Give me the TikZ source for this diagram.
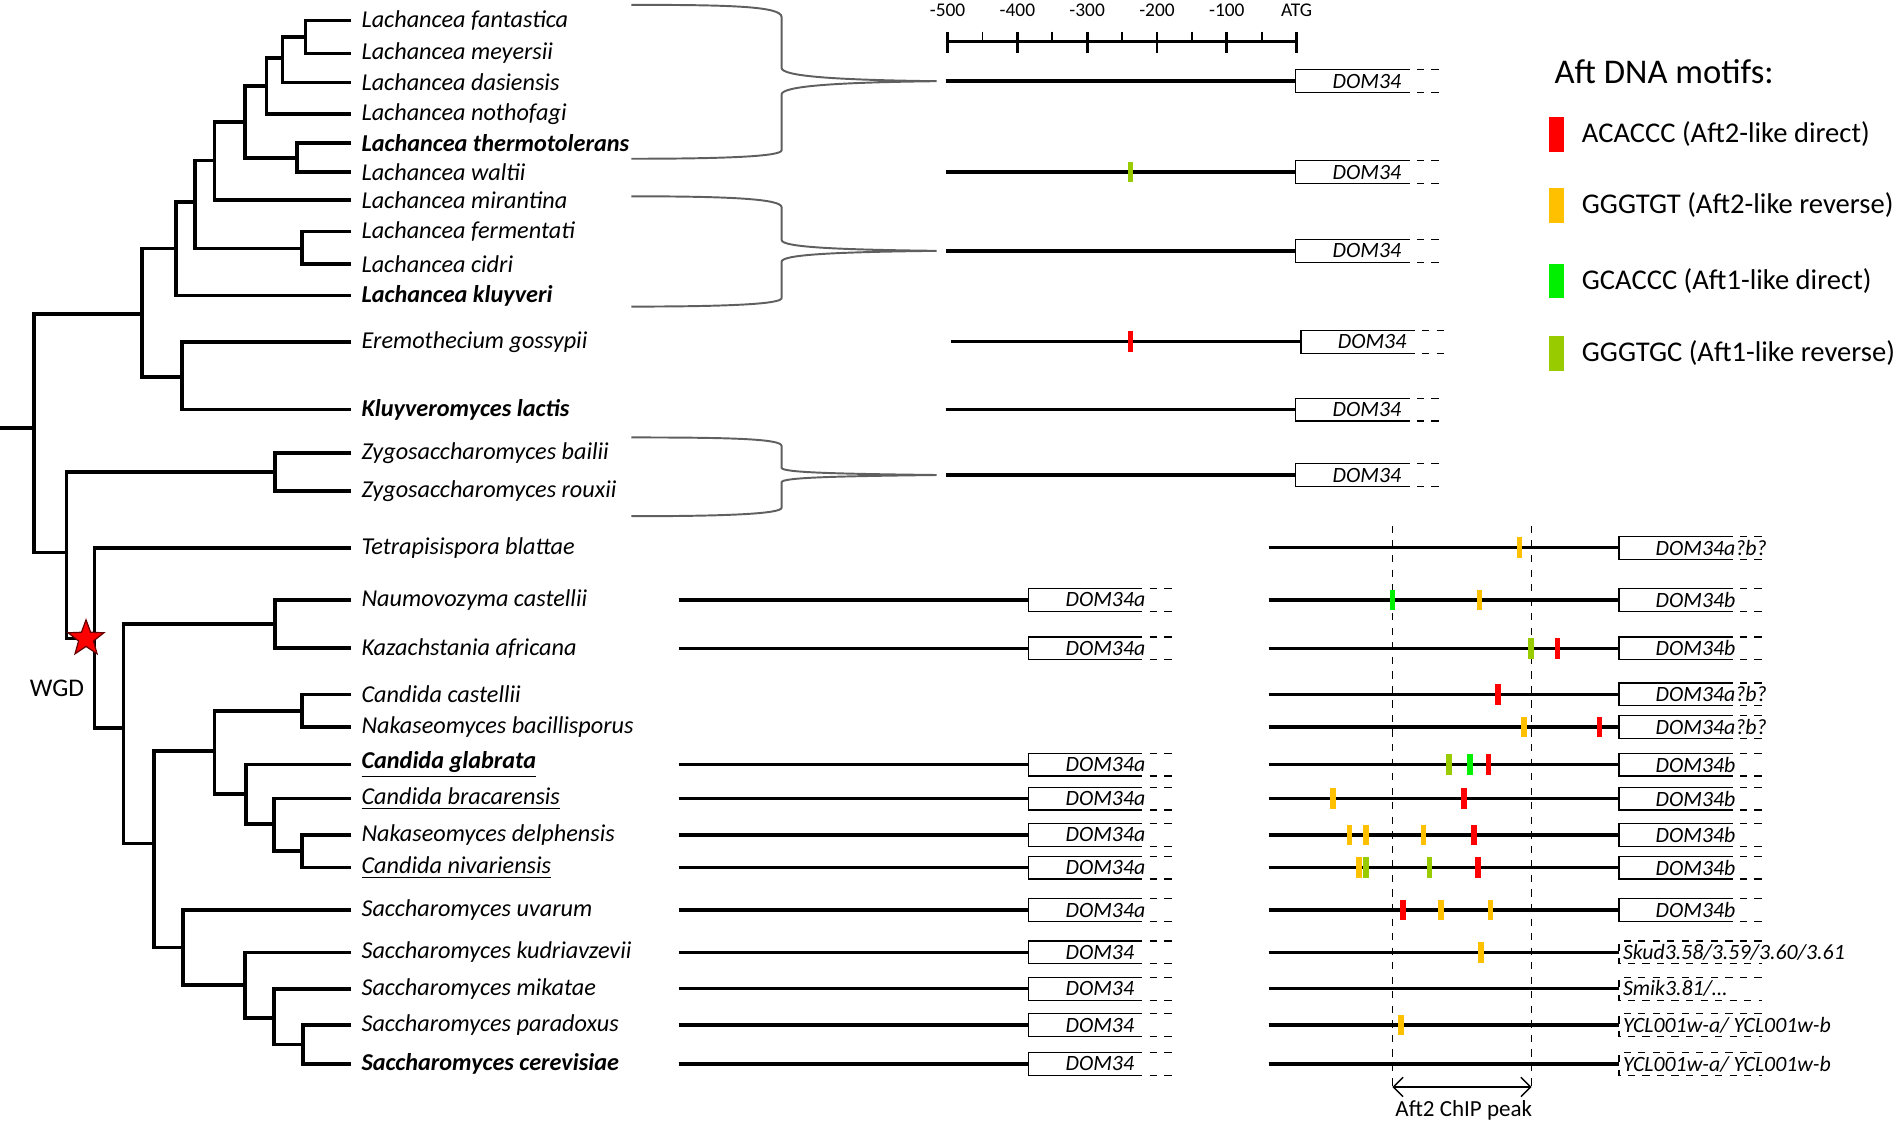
\documentclass[tikz,border=0pt]{standalone}
\usepackage{fontspec}
\setmainfont{Carlito}
\usetikzlibrary{positioning, shapes.geometric, arrows.meta}
\definecolor{motifred}{RGB}{255,0,0}
\definecolor{motifgold}{RGB}{255,192,0}
\definecolor{motifgreen}{RGB}{0,240,0}
\definecolor{motiflime}{RGB}{153,204,0}
\definecolor{bracegray}{RGB}{95,95,95}

\begin{document}
\begin{tikzpicture}[x=0.5pt, y=-0.5pt,
  leaf/.style={anchor=west, inner xsep=4pt, inner ysep=0pt, font=\itshape\fontsize{10}{11}\selectfont},
  branch/.style={line width=1.5pt},
  seq/.style={line width=1.4pt},
  boxline/.style={line width=0.5pt},
  gene/.style={anchor=west, minimum width=43.5pt, minimum height=9pt, inner sep=0pt},
  genelbl/.style={anchor=west, inner sep=0pt, font=\itshape\fontsize{9}{10}\selectfont},
  motif/.style={minimum width=2.3pt, minimum height=8.5pt, inner sep=0pt},
  swatch/.style={minimum width=6pt, minimum height=14.25pt, inner sep=0pt},
  leglbl/.style={anchor=west, inner sep=0pt, font=\fontsize{11.8}{13}\selectfont},
  scalelbl/.style={inner sep=0pt, font=\fontsize{8}{9}\selectfont},
  brace/.style={draw=bracegray, line width=0.8pt}]
\useasboundingbox (0,0) rectangle (1568,928);

% species
\node[leaf] (fant) at (290,17) {Lachancea fantastica};
\node[leaf] (meye) at (290,44) {Lachancea meyersii};
\node[leaf] (dasi) at (290,68) {Lachancea dasiensis};
\node[leaf] (noth) at (290,94) {Lachancea nothofagi};
\node[leaf] (ther) at (290,118) {\textbf{Lachancea thermotolerans}};
\node[leaf] (walt) at (290,142) {Lachancea waltii};
\node[leaf] (mira) at (290,165) {Lachancea mirantina};
\node[leaf] (ferm) at (290,191) {Lachancea fermentati};
\node[leaf] (cidr) at (290,218) {Lachancea cidri};
\node[leaf] (kluy) at (290,244) {\textbf{Lachancea kluyveri}};
\node[leaf] (erem) at (290,282) {Eremothecium gossypii};
\node[leaf] (lact) at (290,338) {\textbf{Kluyveromyces lactis}};
\node[leaf] (bail) at (290,374) {Zygosaccharomyces bailii};
\node[leaf] (roux) at (290,405) {Zygosaccharomyces rouxii};
\node[leaf] (tetr) at (290,452) {Tetrapisispora blattae};
\node[leaf] (naum) at (290,495) {Naumovozyma castellii};
\node[leaf] (kaza) at (290,535) {Kazachstania africana};
\node[leaf] (ccas) at (290,573) {Candida castellii};
\node[leaf] (nbac) at (290,600) {Nakaseomyces bacillisporus};
\node[leaf] (cgla) at (290,631) {\underline{\textbf{Candida glabrata}}};
\node[leaf] (cbra) at (290,659) {\underline{Candida bracarensis}};
\node[leaf] (ndel) at (290,689) {Nakaseomyces delphensis};
\node[leaf] (cniv) at (290,716) {\underline{Candida nivariensis}};
\node[leaf] (suva) at (290,751) {Saccharomyces uvarum};
\node[leaf] (skud) at (290,786) {Saccharomyces kudriavzevii};
\node[leaf] (smik) at (290,816) {Saccharomyces mikatae};
\node[leaf] (spar) at (290,846) {Saccharomyces paradoxus};
\node[leaf] (scer) at (290,878) {\textbf{Saccharomyces cerevisiae}};

% tree
\coordinate (n1) at (252,30.5);
\coordinate (n2) at (233,48);
\coordinate (n3) at (220,71);
\coordinate (n4) at (245,130.5);
\coordinate (n5) at (202,100.7);
\coordinate (n6) at (177,132.5);
\coordinate (n7) at (249,205);
\coordinate (n8) at (161,166.5);
\coordinate (n9) at (145,205);
\coordinate (n10) at (150,311);
\coordinate (n11) at (117,259);
\coordinate (root) at (28,353);
\coordinate (r0) at (0,353);
\coordinate (zyg) at (227,389.5);
\coordinate (nA) at (55,456);
\coordinate (nB) at (78,527);
\coordinate (nk) at (227,515);
\coordinate (nC) at (102,601);
\coordinate (cc) at (249,586.5);
\coordinate (nD) at (177,620);
\coordinate (nE) at (203,655);
\coordinate (nF) at (226,680);
\coordinate (dn) at (249,702.5);
\coordinate (nG) at (127,696);
\coordinate (nH) at (151,782);
\coordinate (nI) at (202,813);
\coordinate (nJ) at (226,840);
\coordinate (nK) at (250,862);

\draw[branch] (fant.west) -| (n1) |- (meye.west);
\draw[branch] (n1) -| (n2) |- (dasi.west);
\draw[branch] (n2) -| (n3) |- (noth.west);
\draw[branch] (ther.west) -| (n4) |- (walt.west);
\draw[branch] (n3) -| (n5) |- (n4);
\draw[branch] (n5) -| (n6) |- (mira.west);
\draw[branch] (ferm.west) -| (n7) |- (cidr.west);
\draw[branch] (n6) -| (n8) |- (n7);
\draw[branch] (n8) -| (n9) |- (kluy.west);
\draw[branch] (erem.west) -| (n10) |- (lact.west);
\draw[branch] (n9) -| (n11) |- (n10);
\draw[branch] (bail.west) -| (zyg) |- (roux.west);
\draw[branch] (naum.west) -| (nk) |- (kaza.west);
\draw[branch] (ccas.west) -| (cc) |- (nbac.west);
\draw[branch] (ndel.west) -| (dn) |- (cniv.west);
\draw[branch] (cbra.west) -| (nF) |- (dn);
\draw[branch] (cgla.west) -| (nE) |- (nF);
\draw[branch] (cc) -| (nD) |- (nE);
\draw[branch] (spar.west) -| (nK) |- (scer.west);
\draw[branch] (smik.west) -| (nJ) |- (nK);
\draw[branch] (skud.west) -| (nI) |- (nJ);
\draw[branch] (suva.west) -| (nH) |- (nI);
\draw[branch] (nD) -| (nG) |- (nH);
\draw[branch] (nk) -| (nC) |- (nG);
\draw[branch] (tetr.west) -| (nB) |- (nC);
\draw[branch] (zyg) -| (nA) |- (nB);
\draw[branch] (n11) -| (root) |- (nA);
\draw[branch] (r0) -- (root);

\node[star, star points=5, star point ratio=2.4, fill=red, draw=black!60!red, line width=0.5pt, minimum size=15.5pt, inner sep=0pt] (wgdstar) at (71,527) {};
\node[font=\fontsize{10.5}{12}\selectfont] (wgd) at (47,568) {WGD};

% brackets
\draw[brace] (521,4) .. controls (600,4) and (645,5) .. (645,14) -- (645,56) .. controls (645,63) and (690,66) .. (773,67) .. controls (690,68) and (645,71) .. (645,78) -- (645,124) .. controls (645,129) and (600,131) .. (521,131);
\draw[brace] (521,162) .. controls (600,162) and (645,164) .. (645,171) -- (645,198) .. controls (645,204) and (690,206) .. (773,207) .. controls (690,208) and (645,210) .. (645,216) -- (645,246) .. controls (645,251) and (600,253) .. (521,253);
\draw[brace] (521,361) .. controls (600,361) and (645,362) .. (645,368) -- (645,386) .. controls (645,390) and (690,391) .. (773,392) .. controls (690,393) and (645,394) .. (645,398) -- (645,419) .. controls (645,424) and (600,426) .. (521,426);

% scale
\coordinate (bar0) at (782,34);
\coordinate (bar1) at (1070,34);
\draw[seq] (bar0) -- (bar1);
\foreach \p/\l [count=\i] in {-500/-500, -400/-400, -300/-300, -200/-200, -100/-100, 0/ATG} {
  \draw[line width=1.2pt] ({1070+\p*0.576},26.5) -- ++(0,17);
  \node[scalelbl] (sl\i) at ({1070+\p*0.576},8.5) {\l};
}
\foreach \p in {-450,-350,-250,-150,-50}
  \draw[line width=0.8pt] ({1070+\p*0.576},26) -- ++(0,8);

% ChIP peak
\coordinate (pkLt) at (1149,434);
\coordinate (pkLb) at (1149,897);
\coordinate (pkRt) at (1264,434);
\coordinate (pkRb) at (1264,897);
\draw[dashed, line width=0.6pt] (pkLt) -- (pkLb);
\draw[dashed, line width=0.6pt] (pkRt) -- (pkRb);
\draw[{Straight Barb[length=4pt]}-{Straight Barb[length=4pt]}, line width=0.6pt] (pkLb) -- (pkRb);
\node[font=\fontsize{9.5}{11}\selectfont, inner sep=0pt] (peaklbl) at (1208,916) {Aft2 ChIP peak};

% promoters with genes
\foreach \n/\x/\y/\t in {la/1069.4/67/DOM34, lb/1069.4/142/DOM34, lc/1069.4/207/DOM34,
    er/1073.7/282/DOM34, kl/1069.4/338/DOM34, zy/1069.4/392/DOM34,
    aNaum/849/495/DOM34a, aKaza/849/535/DOM34a, aCgla/849/631/DOM34a, aCbra/849/659/DOM34a,
    aNdel/849/689/DOM34a, aCniv/849/716/DOM34a, aSuva/849/751/DOM34a, aSkud/849/786/DOM34,
    aSmik/849/816/DOM34, aSpar/849/846/DOM34, aScer/849/878/DOM34,
    bTetr/1336/452/DOM34a?b?, bNaum/1336/495/DOM34b, bKaza/1336/535/DOM34b,
    bCcas/1336/573/DOM34a?b?, bNbac/1336/600/DOM34a?b?, bCgla/1336/631/DOM34b,
    bCbra/1336/659/DOM34b, bNdel/1336/689/DOM34b, bCniv/1336/716/DOM34b, bSuva/1336/751/DOM34b} {
  \coordinate (s\n) at ({\x-289},\y);
  \node[gene] (g\n) at (\x,\y) {};
  \node[genelbl] (t\n) at ([xshift=15pt]g\n.west) {\t};
  \draw[seq] (s\n) -- (g\n.west);
  \draw[boxline] (g\n.north east) -- (g\n.north west) -- (g\n.south west) -- (g\n.south east);
  \draw[boxline, dashed] (g\n.north east) -- ++(15pt,0) (g\n.south east) -- ++(15pt,0);
}
\foreach \n/\y/\t in {bSkud/786/{Skud3.58/3.59/3.60/3.61}, bSmik/816/{Smik3.81/…},
    bSpar/846/{YCL001w-a/ YCL001w-b}, bScer/878/{YCL001w-a/ YCL001w-b}} {
  \coordinate (s\n) at (1047,\y);
  \node[gene] (g\n) at (1336,\y) {};
  \node[genelbl] (t\n) at ([xshift=1.5pt]g\n.west) {\t};
  \draw[seq] (s\n) -- (g\n.west);
  \draw[boxline, dashed] ([xshift=15pt]g\n.north east) -- (g\n.north west) -- (g\n.south west) -- ([xshift=15pt]g\n.south east);
}

% motifs
\foreach \x/\y/\c [count=\i] in {933/142/motiflime, 933/282/motifred,
    1254/452/motifgold, 1149/495/motifgreen, 1221/495/motifgold,
    1263.5/535/motiflime, 1285.4/535/motifred, 1236/573/motifred,
    1257.6/600/motifgold, 1320/600/motifred,
    1196/631/motiflime, 1213/631/motifgreen, 1228.5/631/motifred,
    1100/659/motifgold, 1208.4/659/motifred,
    1113.6/689/motifgold, 1127.5/689/motifgold, 1174.7/689/motifgold, 1216.3/689/motifred,
    1121.3/716/motifgold, 1127.5/716/motiflime, 1179.6/716/motiflime, 1219.5/716/motifred,
    1158/751/motifred, 1189/751/motifgold, 1230/751/motifgold,
    1222/786/motifgold, 1156.3/846/motifgold}
  \node[motif, fill=\c] (m\i) at (\x,\y) {};

% legend
\node[anchor=west, inner sep=0pt, font=\fontsize{14.3}{16}\selectfont] (legtitle) at (1282.5,59) {Aft DNA motifs:};
\foreach \c/\y/\t [count=\i] in {motifred/111/ACACCC (Aft2-like direct),
    motifgold/169.4/GGGTGT (Aft2-like reverse),
    motifgreen/232/GCACCC (Aft1-like direct),
    motiflime/291.6/GGGTGC (Aft1-like reverse)} {
  \node[swatch, fill=\c] (sw\i) at (1284.7,\y) {};
  \node[leglbl, right=7pt of sw\i] (lg\i) {\t};
}
\end{tikzpicture}
\end{document}
